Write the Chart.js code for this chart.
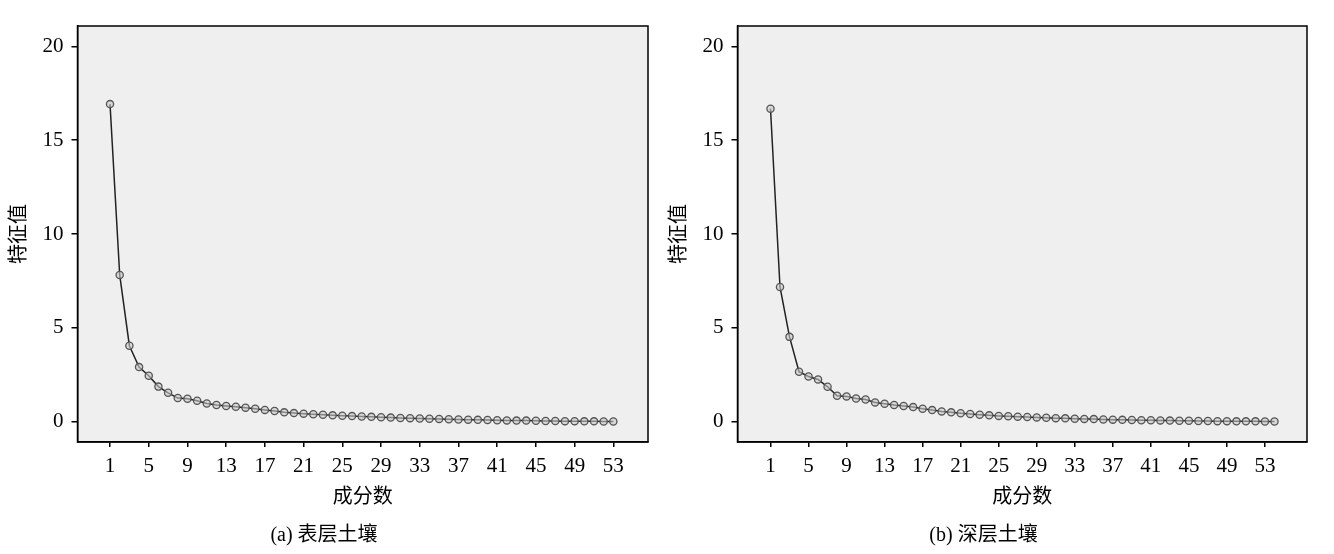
<!DOCTYPE html>
<html>
<head>
<meta charset="utf-8">
<script src="https://cdn.jsdelivr.net/npm/chart.js@4/dist/chart.umd.min.js"></script>
<style>
  body { margin: 0; background: #fff; }
  #wrap { position: relative; width: 1334px; height: 554px; }
  canvas { position: absolute; top: 0; }
</style>
</head>
<body>
<div id="wrap">
  <canvas id="topChart" width="667" height="554" style="left:0"></canvas>
  <canvas id="deepChart" width="674" height="554" style="left:660px"></canvas>
</div>
<script>
// Eigenvalues
const topComponents = Array.from({ length: 53 }, (_, i) => i + 1);
const topEigen = [16.92, 7.82, 4.05, 2.91, 2.45, 1.87, 1.54, 1.26, 1.22, 1.12,
  0.97, 0.89, 0.84, 0.80, 0.75, 0.69, 0.63, 0.57, 0.50, 0.46,
  0.43, 0.40, 0.37, 0.34, 0.32, 0.30, 0.28, 0.26, 0.24, 0.22,
  0.20, 0.19, 0.17, 0.16, 0.15, 0.13, 0.12, 0.11, 0.10, 0.09,
  0.08, 0.07, 0.06, 0.06, 0.05, 0.04, 0.04, 0.03, 0.03, 0.02,
  0.02, 0.01, 0.01];

const deepComponents = Array.from({ length: 54 }, (_, i) => i + 1);
const deepEigen = [16.67, 7.18, 4.52, 2.66, 2.41, 2.25, 1.86, 1.38, 1.35, 1.24,
  1.18, 1.03, 0.96, 0.89, 0.84, 0.78, 0.69, 0.62, 0.55, 0.50,
  0.45, 0.41, 0.37, 0.34, 0.31, 0.29, 0.27, 0.25, 0.23, 0.21,
  0.19, 0.18, 0.16, 0.15, 0.14, 0.12, 0.11, 0.10, 0.09, 0.08,
  0.08, 0.07, 0.06, 0.05, 0.05, 0.04, 0.04, 0.03, 0.03, 0.02,
  0.02, 0.02, 0.01, 0.01];

const xTickValues = [1, 5, 9, 13, 17, 21, 25, 29, 33, 37, 41, 45, 49, 53];
const yTickValues = [0, 5, 10, 15, 20];

const FONT = "'Liberation Serif', 'Noto Sans CJK SC', serif";

// plot background and frame
const framePlugin = {
    id: 'frame',
    beforeDraw(chart) {
        const { ctx, chartArea: a } = chart;
        ctx.save();
        ctx.fillStyle = '#efefef';
        ctx.fillRect(a.left, a.top, a.right - a.left, a.bottom - a.top);
        ctx.restore();
    },
    afterDraw(chart) {
        const { ctx, chartArea: a } = chart;
        ctx.save();
        ctx.strokeStyle = '#000';
        ctx.lineWidth = 1.5;
        ctx.strokeRect(a.left, a.top, a.right - a.left, a.bottom - a.top);
        ctx.restore();
    }
};

const makeChart = (id, comps, vals, xMin, xMax, caption, rightPad) => {
    const ctx = document.getElementById(id).getContext('2d');
    return new Chart(ctx, {
        type: 'line',
        data: {
            datasets: [{
                data: comps.map((c, i) => ({ x: c, y: vals[i] })),
                borderColor: '#222',
                borderWidth: 1.5,
                pointRadius: 3.6,
                pointBorderWidth: 1.3,
                pointBorderColor: '#555',
                pointBackgroundColor: 'rgba(200,200,200,0.6)',
                tension: 0,
                fill: false
            }]
        },
        options: {
            responsive: false,
            animation: false,
            layout: { padding: { top: 26, right: rightPad, left: 0, bottom: 0 } },
            plugins: {
                legend: { display: false },
                tooltip: { enabled: false },
                title: {
                    display: true,
                    text: caption,
                    position: 'bottom',
                    color: '#000',
                    font: { family: FONT, size: 20, weight: 'normal' },
                    padding: { top: 4, bottom: 6 }
                }
            },
            scales: {
                x: {
                    type: 'linear',
                    min: xMin,
                    max: xMax,
                    afterBuildTicks: s => { s.ticks = xTickValues.map(v => ({ value: v })); },
                    afterFit: s => { s.height = 78; },
                    border: { display: true, color: '#000', width: 1.5 },
                    grid: { drawOnChartArea: false, drawTicks: true, tickLength: 5, color: '#000', lineWidth: 1.5 },
                    ticks: { color: '#000', padding: 7, maxRotation: 0, autoSkip: false,
                        font: { family: FONT, size: 21 } },
                    title: { display: true, text: '成分数', color: '#000',
                        font: { family: FONT, size: 20 }, padding: { top: 0, bottom: 10 } }
                },
                y: {
                    min: -1.08,
                    max: 21.08,
                    afterBuildTicks: s => { s.ticks = yTickValues.map(v => ({ value: v })); },
                    afterFit: s => { s.width = 77.5; },
                    border: { display: true, color: '#000', width: 1.5 },
                    grid: { drawOnChartArea: false, drawTicks: true, tickLength: 6, color: '#000', lineWidth: 1.5 },
                    ticks: { color: '#000', padding: 8, font: { family: FONT, size: 21 } },
                    title: { display: true, text: '特征值', color: '#000',
                        font: { family: FONT, size: 20 }, padding: { top: 8, bottom: 0 } }
                }
            }
        },
        plugins: [framePlugin]
    });
};

makeChart('topChart', topComponents, topEigen, -2.36, 56.58, '(a) 表层土壤', 19);
makeChart('deepChart', deepComponents, deepEigen, -2.47, 57.42, '(b) 深层土壤', 27);
</script>
</body>
</html>
